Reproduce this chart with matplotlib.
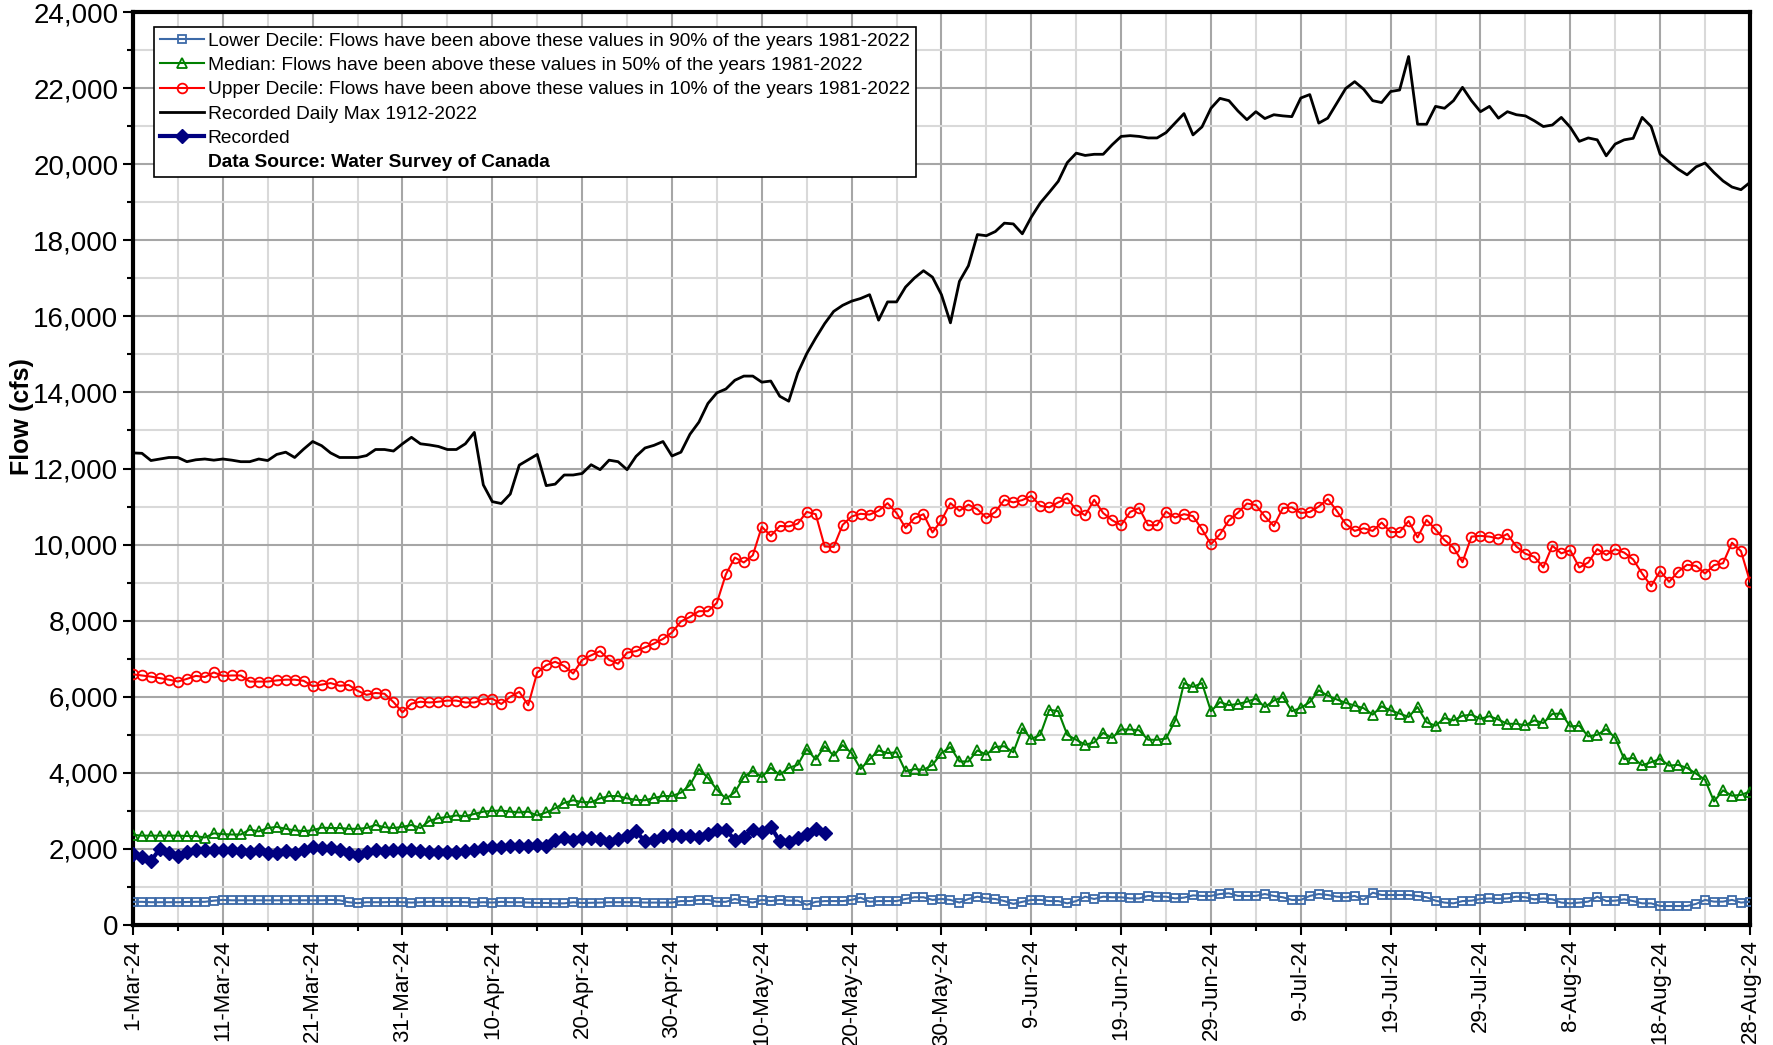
import matplotlib
matplotlib.use("Agg")
import matplotlib.pyplot as plt
from matplotlib.lines import Line2D
from matplotlib.ticker import FuncFormatter, MultipleLocator
import pandas as pd

plt.rcParams['font.family'] = ['Liberation Sans', 'DejaVu Sans']

dates = pd.date_range("2024-03-01", "2024-08-28", freq="D")

lower_decile = [610, 610, 600, 600, 600, 600, 605, 610, 610, 640,
                660, 650, 650, 650, 650, 650, 650, 650, 650, 650,
                650, 650, 660, 650, 600, 575, 600, 600, 600, 610,
                600, 590, 600, 610, 610, 600, 610, 600, 590, 600,
                590, 610, 600, 600, 590, 580, 580, 570, 570, 600,
                580, 585, 590, 600, 600, 600, 600, 590, 590, 590,
                590, 630, 630, 660, 660, 610, 610, 685, 630, 590,
                660, 630, 660, 640, 640, 530, 610, 630, 630, 630,
                660, 720, 610, 630, 630, 630, 685, 730, 730, 660,
                685, 660, 590, 685, 745, 700, 685, 630, 555, 610,
                660, 660, 630, 630, 570, 630, 745, 685, 745, 730,
                730, 700, 700, 765, 745, 745, 700, 720, 780, 765,
                765, 815, 835, 765, 765, 765, 815, 765, 730, 660,
                660, 765, 815, 790, 745, 730, 765, 660, 850, 790,
                790, 790, 790, 765, 730, 640, 590, 570, 630, 640,
                685, 700, 685, 700, 745, 730, 675, 700, 675, 590,
                570, 590, 615, 745, 630, 640, 675, 630, 570, 570,
                500, 500, 500, 500, 555, 660, 615, 615, 660, 590,
                615]

median = [2370, 2350, 2350, 2350, 2350, 2350, 2340, 2340, 2300, 2410,
          2390, 2380, 2380, 2510, 2460, 2550, 2580, 2530, 2490, 2470,
          2490, 2560, 2550, 2550, 2530, 2530, 2550, 2630, 2570, 2550,
          2580, 2630, 2550, 2740, 2810, 2840, 2880, 2860, 2920, 2980,
          3000, 3010, 2980, 2960, 2980, 2880, 2960, 3070, 3210, 3280,
          3230, 3230, 3330, 3390, 3390, 3330, 3290, 3280, 3340, 3390,
          3390, 3480, 3680, 4100, 3870, 3560, 3320, 3490, 3890, 4060,
          3890, 4130, 3950, 4130, 4210, 4630, 4350, 4700, 4450, 4730,
          4520, 4100, 4360, 4590, 4520, 4540, 4040, 4100, 4080, 4210,
          4520, 4680, 4300, 4300, 4590, 4480, 4680, 4700, 4540, 5170,
          4890, 5000, 5660, 5620, 5000, 4870, 4740, 4800, 5050, 4920,
          5140, 5140, 5120, 4870, 4870, 4900, 5370, 6360, 6260, 6360,
          5620, 5860, 5780, 5810, 5870, 5950, 5730, 5900, 6000, 5620,
          5710, 5860, 6170, 6030, 5930, 5840, 5770, 5700, 5530, 5750,
          5640, 5560, 5470, 5730, 5330, 5240, 5440, 5380, 5500, 5530,
          5420, 5490, 5400, 5290, 5290, 5250, 5380, 5310, 5550, 5560,
          5220, 5240, 4960, 5000, 5150, 4920, 4360, 4390, 4200, 4280,
          4370, 4190, 4210, 4130, 3980, 3820, 3250, 3540, 3400, 3420,
          3510]

upper_decile = [6590, 6560, 6530, 6490, 6450, 6400, 6470, 6550, 6520, 6640,
                6550, 6560, 6560, 6400, 6400, 6400, 6430, 6450, 6450, 6420,
                6280, 6320, 6360, 6290, 6310, 6160, 6050, 6100, 6080, 5860,
                5590, 5820, 5870, 5850, 5870, 5900, 5900, 5850, 5850, 5930,
                5950, 5810, 6000, 6130, 5780, 6640, 6830, 6920, 6810, 6610,
                6970, 7090, 7200, 6970, 6870, 7160, 7200, 7300, 7400, 7520,
                7690, 7980, 8100, 8250, 8250, 8470, 9220, 9660, 9530, 9720,
                10470, 10230, 10490, 10480, 10550, 10860, 10800, 9950, 9940, 10520,
                10740, 10810, 10790, 10890, 11090, 10830, 10440, 10700, 10800, 10320,
                10640, 11090, 10890, 11050, 10930, 10700, 10860, 11180, 11110, 11170,
                11280, 11020, 10980, 11110, 11220, 10910, 10770, 11180, 10830, 10640,
                10510, 10860, 10960, 10510, 10510, 10870, 10710, 10800, 10750, 10400,
                10010, 10270, 10640, 10840, 11080, 11040, 10740, 10490, 10960, 10980,
                10830, 10860, 11000, 11200, 10890, 10540, 10360, 10430, 10360, 10580,
                10330, 10330, 10620, 10190, 10650, 10400, 10120, 9920, 9540, 10210,
                10230, 10210, 10160, 10280, 9950, 9760, 9680, 9400, 9970, 9770,
                9850, 9400, 9530, 9880, 9730, 9880, 9790, 9610, 9240, 8910,
                9310, 9020, 9290, 9470, 9440, 9240, 9460, 9510, 10050, 9830,
                9030]

daily_max = [12410, 12400, 12210, 12250, 12290, 12290, 12180, 12230, 12250, 12220,
             12250, 12220, 12180, 12180, 12250, 12210, 12370, 12430, 12290, 12510,
             12710, 12600, 12410, 12290, 12290, 12290, 12340, 12500, 12500, 12460,
             12650, 12820, 12650, 12620, 12580, 12500, 12500, 12650, 12950, 11570,
             11130, 11080, 11330, 12090, 12230, 12370, 11550, 11590, 11830, 11830,
             11870, 12100, 11970, 12220, 12180, 11970, 12320, 12540, 12610, 12710,
             12330, 12430, 12900, 13220, 13710, 13990, 14090, 14320, 14430, 14430,
             14270, 14300, 13900, 13770, 14510, 15020, 15430, 15810, 16130, 16290,
             16400, 16470, 16570, 15900, 16380, 16380, 16770, 17010, 17200, 17030,
             16570, 15830, 16920, 17330, 18150, 18120, 18230, 18450, 18430, 18170,
             18610, 18980, 19260, 19550, 20040, 20290, 20230, 20260, 20260, 20510,
             20730, 20750, 20730, 20690, 20690, 20830, 21080, 21330, 20770, 20980,
             21470, 21730, 21670, 21400, 21170, 21380, 21200, 21300, 21270, 21250,
             21740, 21830, 21080, 21210, 21600, 21990, 22170, 21970, 21670, 21620,
             21910, 21950, 22830, 21050, 21050, 21520, 21470, 21670, 22020, 21670,
             21380, 21520, 21210, 21380, 21300, 21270, 21140, 20990, 21030, 21230,
             20970, 20600, 20690, 20640, 20220, 20530, 20640, 20680, 21230, 20990,
             20260, 20060, 19870, 19720, 19930, 20030, 19780, 19560, 19400, 19330,
             19520]

recorded = [1870, 1800, 1680, 2010, 1900, 1820, 1930, 1960, 1980, 1980,
            1980, 1960, 1940, 1930, 1960, 1900, 1900, 1940, 1900, 1960,
            2040, 2020, 2020, 1980, 1890, 1830, 1930, 1960, 1940, 1960,
            1980, 1980, 1940, 1930, 1930, 1930, 1930, 1940, 1960, 2020,
            2040, 2060, 2090, 2090, 2090, 2100, 2090, 2240, 2290, 2230,
            2290, 2300, 2270, 2180, 2270, 2340, 2460, 2200, 2240, 2330,
            2370, 2330, 2330, 2310, 2400, 2500, 2500, 2240, 2310, 2500,
            2440, 2590, 2200, 2170, 2280, 2390, 2530, 2430]

labels = ["Lower Decile: Flows have been above these values in 90% of the years 1981-2022",
          "Median: Flows have been above these values in 50% of the years 1981-2022",
          "Upper Decile: Flows have been above these values in 10% of the years 1981-2022",
          "Recorded Daily Max 1912-2022",
          "Recorded",
          "Data Source: Water Survey of Canada"]

days = list(range(len(dates)))

fig = plt.figure(figsize=(17.73, 10.45), dpi=100)
ax = fig.add_axes([0.075, 0.1148, 0.912, 0.8737])

ax.plot(days, lower_decile, color="#3d6aa8", lw=1.5, marker="s", ms=6,
        mfc="none", mew=1.3, label=labels[0], zorder=4)
ax.plot(days, median, color="#008000", lw=1.5, marker="^", ms=6.5,
        mfc="none", mew=1.3, label=labels[1], zorder=4)
ax.plot(days, upper_decile, color="#ff0000", lw=1.5, marker="o", ms=7,
        mfc="none", mew=1.3, label=labels[2], zorder=4)
ax.plot(days, daily_max, color="black", lw=2, label=labels[3], zorder=4)
ax.plot(days[:len(recorded)], recorded, color="#000080", lw=3, marker="D",
        ms=7.5, label=labels[4], zorder=5)

ax.set_xlim(0, len(dates) - 1)
ax.set_ylim(0, 24000)

ax.set_xticks(days[::10])
ax.set_xticks(days[::5], minor=True)
ax.set_xticklabels([f"{d.day}-{d.strftime('%b-%y')}" for d in dates[::10]],
                   rotation=90, fontsize=16)
ax.yaxis.set_major_locator(MultipleLocator(2000))
ax.yaxis.set_minor_locator(MultipleLocator(1000))
ax.yaxis.set_major_formatter(FuncFormatter(lambda v, p: f"{int(v):,}"))
ax.tick_params(axis="y", labelsize=20)
ax.tick_params(which="both", direction="out", width=1.5, color="black")
ax.tick_params(which="major", length=7)
ax.tick_params(which="minor", length=4)

ax.grid(which="major", color="#a6a6a6", lw=1.5, zorder=0)
ax.grid(which="minor", color="#d9d9d9", lw=1.5, zorder=0)
ax.set_axisbelow(True)
for s in ax.spines.values():
    s.set_linewidth(3)
    s.set_color("black")

ax.set_ylabel("Flow (cfs)", fontsize=18, fontweight="bold")
ax.yaxis.set_label_coords(-0.061, 0.557)

handles, _ = ax.get_legend_handles_labels()
handles.append(Line2D([], [], color="none"))
leg = ax.legend(handles, labels, loc="upper left", bbox_to_anchor=(0.013, 0.984),
                borderaxespad=0, fontsize=13.8, frameon=True, fancybox=False,
                edgecolor="black", framealpha=1, handlelength=2.3,
                handletextpad=0.2, labelspacing=0.36, borderpad=0.3)
leg.get_frame().set_linewidth(1.2)
leg.get_texts()[-1].set_fontweight("bold")

fig.savefig("out.png", dpi=100)
